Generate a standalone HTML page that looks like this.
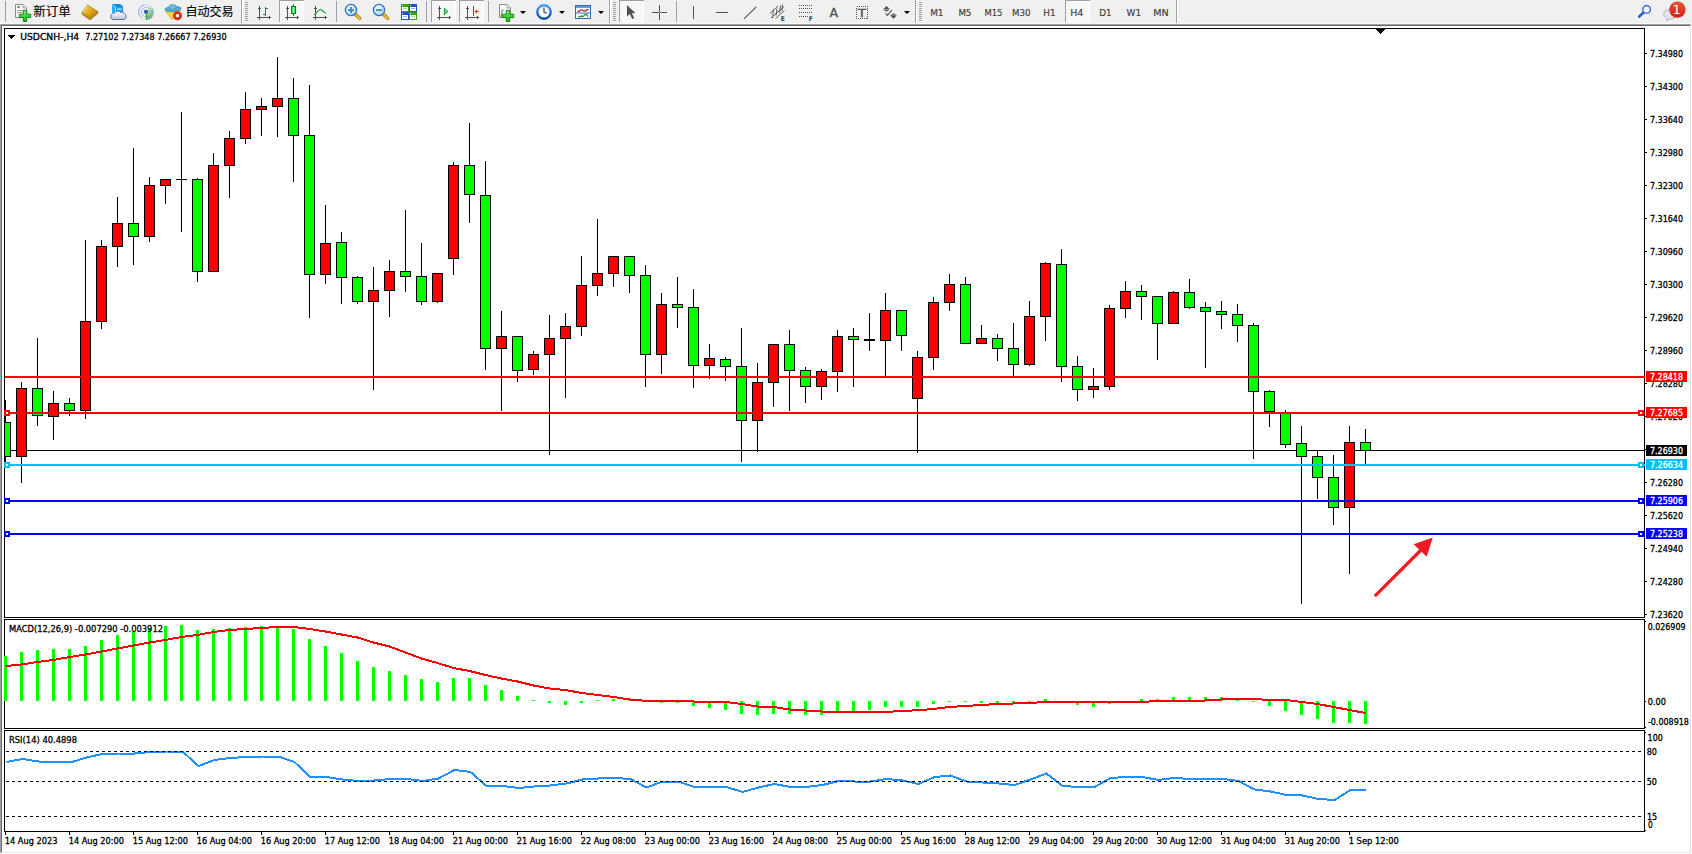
<!DOCTYPE html>
<html lang="zh"><head><meta charset="utf-8"><title>USDCNH-,H4</title>
<style>html,body{margin:0;padding:0;background:#f0f0f0;overflow:hidden}svg text{white-space:pre}</style></head>
<body>
<svg width="1692" height="854" viewBox="0 0 1692 854" font-family="'DejaVu Sans Condensed', 'DejaVu Sans', 'Liberation Sans', 'Noto Sans CJK SC', sans-serif" style="display:block">
<rect x="0" y="0" width="1692" height="854" fill="#f0f0f0"/>
<g shape-rendering="crispEdges">
<rect x="0" y="24" width="1692" height="830" fill="#ffffff"/>
<rect x="0" y="24" width="1691" height="1" fill="#a0a0a0"/>
<rect x="0" y="24" width="1" height="829" fill="#a0a0a0"/>
<rect x="1" y="25" width="1689" height="1" fill="#696969"/>
<rect x="1" y="25" width="1" height="827" fill="#696969"/>
<rect x="1690" y="25" width="1" height="828" fill="#e3e3e3"/>
<rect x="1" y="852" width="1690" height="1" fill="#e3e3e3"/>
<rect x="1691" y="24" width="1" height="830" fill="#ffffff"/>
<rect x="0" y="853" width="1692" height="1" fill="#ffffff"/>
<rect x="4" y="28" width="1641" height="1" fill="#000"/>
<rect x="4" y="28" width="1" height="590" fill="#000"/>
<rect x="1644" y="28" width="1" height="590" fill="#000"/>
<rect x="4" y="617" width="1641" height="1" fill="#000"/>
<rect x="4" y="619" width="1641" height="1" fill="#000"/>
<rect x="4" y="619" width="1" height="110" fill="#000"/>
<rect x="1644" y="619" width="1" height="110" fill="#000"/>
<rect x="4" y="728" width="1641" height="1" fill="#000"/>
<rect x="4" y="730" width="1641" height="1" fill="#000"/>
<rect x="4" y="730" width="1" height="102" fill="#000"/>
<rect x="1644" y="730" width="1" height="102" fill="#000"/>
<rect x="4" y="831" width="1641" height="1" fill="#000"/>
<rect x="1376" y="29" width="9" height="1" fill="#000"/>
<rect x="1377" y="30" width="7" height="1" fill="#000"/>
<rect x="1378" y="31" width="5" height="1" fill="#000"/>
<rect x="1379" y="32" width="3" height="1" fill="#000"/>
<rect x="1380" y="33" width="1" height="1" fill="#000"/>
<rect x="5" y="450" width="1639" height="1" fill="#000"/>
<clipPath id="cp"><rect x="5" y="29" width="1639" height="588"/></clipPath><g clip-path="url(#cp)">
<rect x="5" y="400" width="1" height="63" fill="#000"/>
<rect x="0" y="422" width="11" height="35" fill="#000"/>
<rect x="1" y="423" width="9" height="33" fill="#00ff00"/>
<rect x="21" y="382" width="1" height="101" fill="#000"/>
<rect x="16" y="388" width="11" height="69" fill="#000"/>
<rect x="17" y="389" width="9" height="67" fill="#ff0000"/>
<rect x="37" y="338" width="1" height="88" fill="#000"/>
<rect x="32" y="388" width="11" height="28" fill="#000"/>
<rect x="33" y="389" width="9" height="26" fill="#00ff00"/>
<rect x="53" y="391" width="1" height="49" fill="#000"/>
<rect x="48" y="403" width="11" height="14" fill="#000"/>
<rect x="49" y="404" width="9" height="12" fill="#ff0000"/>
<rect x="69" y="398" width="1" height="18" fill="#000"/>
<rect x="64" y="403" width="11" height="8" fill="#000"/>
<rect x="65" y="404" width="9" height="6" fill="#00ff00"/>
<rect x="85" y="240" width="1" height="179" fill="#000"/>
<rect x="80" y="321" width="11" height="90" fill="#000"/>
<rect x="81" y="322" width="9" height="88" fill="#ff0000"/>
<rect x="101" y="240" width="1" height="89" fill="#000"/>
<rect x="96" y="246" width="11" height="76" fill="#000"/>
<rect x="97" y="247" width="9" height="74" fill="#ff0000"/>
<rect x="117" y="197" width="1" height="70" fill="#000"/>
<rect x="112" y="223" width="11" height="24" fill="#000"/>
<rect x="113" y="224" width="9" height="22" fill="#ff0000"/>
<rect x="133" y="148" width="1" height="117" fill="#000"/>
<rect x="128" y="223" width="11" height="14" fill="#000"/>
<rect x="129" y="224" width="9" height="12" fill="#00ff00"/>
<rect x="149" y="177" width="1" height="65" fill="#000"/>
<rect x="144" y="185" width="11" height="52" fill="#000"/>
<rect x="145" y="186" width="9" height="50" fill="#ff0000"/>
<rect x="165" y="179" width="1" height="25" fill="#000"/>
<rect x="160" y="179" width="11" height="7" fill="#000"/>
<rect x="161" y="180" width="9" height="5" fill="#ff0000"/>
<rect x="181" y="112" width="1" height="120" fill="#000"/>
<rect x="176" y="179" width="11" height="1" fill="#000"/>
<rect x="197" y="178" width="1" height="104" fill="#000"/>
<rect x="192" y="179" width="11" height="93" fill="#000"/>
<rect x="193" y="180" width="9" height="91" fill="#00ff00"/>
<rect x="213" y="153" width="1" height="119" fill="#000"/>
<rect x="208" y="165" width="11" height="107" fill="#000"/>
<rect x="209" y="166" width="9" height="105" fill="#ff0000"/>
<rect x="229" y="131" width="1" height="67" fill="#000"/>
<rect x="224" y="138" width="11" height="28" fill="#000"/>
<rect x="225" y="139" width="9" height="26" fill="#ff0000"/>
<rect x="245" y="92" width="1" height="52" fill="#000"/>
<rect x="240" y="109" width="11" height="30" fill="#000"/>
<rect x="241" y="110" width="9" height="28" fill="#ff0000"/>
<rect x="261" y="98" width="1" height="38" fill="#000"/>
<rect x="256" y="106" width="11" height="4" fill="#000"/>
<rect x="257" y="107" width="9" height="2" fill="#ff0000"/>
<rect x="277" y="57" width="1" height="80" fill="#000"/>
<rect x="272" y="98" width="11" height="9" fill="#000"/>
<rect x="273" y="99" width="9" height="7" fill="#ff0000"/>
<rect x="293" y="78" width="1" height="104" fill="#000"/>
<rect x="288" y="98" width="11" height="38" fill="#000"/>
<rect x="289" y="99" width="9" height="36" fill="#00ff00"/>
<rect x="309" y="85" width="1" height="233" fill="#000"/>
<rect x="304" y="135" width="11" height="140" fill="#000"/>
<rect x="305" y="136" width="9" height="138" fill="#00ff00"/>
<rect x="325" y="205" width="1" height="79" fill="#000"/>
<rect x="320" y="243" width="11" height="32" fill="#000"/>
<rect x="321" y="244" width="9" height="30" fill="#ff0000"/>
<rect x="341" y="232" width="1" height="72" fill="#000"/>
<rect x="336" y="242" width="11" height="36" fill="#000"/>
<rect x="337" y="243" width="9" height="34" fill="#00ff00"/>
<rect x="357" y="276" width="1" height="28" fill="#000"/>
<rect x="352" y="277" width="11" height="25" fill="#000"/>
<rect x="353" y="278" width="9" height="23" fill="#00ff00"/>
<rect x="373" y="267" width="1" height="123" fill="#000"/>
<rect x="368" y="290" width="11" height="12" fill="#000"/>
<rect x="369" y="291" width="9" height="10" fill="#ff0000"/>
<rect x="389" y="260" width="1" height="57" fill="#000"/>
<rect x="384" y="271" width="11" height="20" fill="#000"/>
<rect x="385" y="272" width="9" height="18" fill="#ff0000"/>
<rect x="405" y="210" width="1" height="82" fill="#000"/>
<rect x="400" y="271" width="11" height="6" fill="#000"/>
<rect x="401" y="272" width="9" height="4" fill="#00ff00"/>
<rect x="421" y="243" width="1" height="62" fill="#000"/>
<rect x="416" y="276" width="11" height="26" fill="#000"/>
<rect x="417" y="277" width="9" height="24" fill="#00ff00"/>
<rect x="437" y="273" width="1" height="30" fill="#000"/>
<rect x="432" y="273" width="11" height="29" fill="#000"/>
<rect x="433" y="274" width="9" height="27" fill="#ff0000"/>
<rect x="453" y="162" width="1" height="113" fill="#000"/>
<rect x="448" y="165" width="11" height="94" fill="#000"/>
<rect x="449" y="166" width="9" height="92" fill="#ff0000"/>
<rect x="469" y="123" width="1" height="100" fill="#000"/>
<rect x="464" y="165" width="11" height="30" fill="#000"/>
<rect x="465" y="166" width="9" height="28" fill="#00ff00"/>
<rect x="485" y="161" width="1" height="209" fill="#000"/>
<rect x="480" y="195" width="11" height="154" fill="#000"/>
<rect x="481" y="196" width="9" height="152" fill="#00ff00"/>
<rect x="501" y="311" width="1" height="100" fill="#000"/>
<rect x="496" y="336" width="11" height="13" fill="#000"/>
<rect x="497" y="337" width="9" height="11" fill="#ff0000"/>
<rect x="517" y="336" width="1" height="46" fill="#000"/>
<rect x="512" y="336" width="11" height="35" fill="#000"/>
<rect x="513" y="337" width="9" height="33" fill="#00ff00"/>
<rect x="533" y="351" width="1" height="24" fill="#000"/>
<rect x="528" y="354" width="11" height="16" fill="#000"/>
<rect x="529" y="355" width="9" height="14" fill="#ff0000"/>
<rect x="549" y="315" width="1" height="140" fill="#000"/>
<rect x="544" y="338" width="11" height="17" fill="#000"/>
<rect x="545" y="339" width="9" height="15" fill="#ff0000"/>
<rect x="565" y="313" width="1" height="85" fill="#000"/>
<rect x="560" y="326" width="11" height="13" fill="#000"/>
<rect x="561" y="327" width="9" height="11" fill="#ff0000"/>
<rect x="581" y="256" width="1" height="80" fill="#000"/>
<rect x="576" y="285" width="11" height="42" fill="#000"/>
<rect x="577" y="286" width="9" height="40" fill="#ff0000"/>
<rect x="597" y="219" width="1" height="77" fill="#000"/>
<rect x="592" y="273" width="11" height="13" fill="#000"/>
<rect x="593" y="274" width="9" height="11" fill="#ff0000"/>
<rect x="613" y="256" width="1" height="31" fill="#000"/>
<rect x="608" y="256" width="11" height="18" fill="#000"/>
<rect x="609" y="257" width="9" height="16" fill="#ff0000"/>
<rect x="629" y="256" width="1" height="37" fill="#000"/>
<rect x="624" y="256" width="11" height="20" fill="#000"/>
<rect x="625" y="257" width="9" height="18" fill="#00ff00"/>
<rect x="645" y="265" width="1" height="122" fill="#000"/>
<rect x="640" y="275" width="11" height="80" fill="#000"/>
<rect x="641" y="276" width="9" height="78" fill="#00ff00"/>
<rect x="661" y="293" width="1" height="81" fill="#000"/>
<rect x="656" y="304" width="11" height="51" fill="#000"/>
<rect x="657" y="305" width="9" height="49" fill="#ff0000"/>
<rect x="677" y="277" width="1" height="51" fill="#000"/>
<rect x="672" y="304" width="11" height="4" fill="#000"/>
<rect x="673" y="305" width="9" height="2" fill="#00ff00"/>
<rect x="693" y="289" width="1" height="99" fill="#000"/>
<rect x="688" y="307" width="11" height="59" fill="#000"/>
<rect x="689" y="308" width="9" height="57" fill="#00ff00"/>
<rect x="709" y="344" width="1" height="35" fill="#000"/>
<rect x="704" y="358" width="11" height="8" fill="#000"/>
<rect x="705" y="359" width="9" height="6" fill="#ff0000"/>
<rect x="725" y="357" width="1" height="24" fill="#000"/>
<rect x="720" y="359" width="11" height="8" fill="#000"/>
<rect x="721" y="360" width="9" height="6" fill="#00ff00"/>
<rect x="741" y="328" width="1" height="134" fill="#000"/>
<rect x="736" y="366" width="11" height="55" fill="#000"/>
<rect x="737" y="367" width="9" height="53" fill="#00ff00"/>
<rect x="757" y="363" width="1" height="89" fill="#000"/>
<rect x="752" y="382" width="11" height="39" fill="#000"/>
<rect x="753" y="383" width="9" height="37" fill="#ff0000"/>
<rect x="773" y="344" width="1" height="63" fill="#000"/>
<rect x="768" y="344" width="11" height="39" fill="#000"/>
<rect x="769" y="345" width="9" height="37" fill="#ff0000"/>
<rect x="789" y="330" width="1" height="81" fill="#000"/>
<rect x="784" y="344" width="11" height="27" fill="#000"/>
<rect x="785" y="345" width="9" height="25" fill="#00ff00"/>
<rect x="805" y="367" width="1" height="36" fill="#000"/>
<rect x="800" y="370" width="11" height="17" fill="#000"/>
<rect x="801" y="371" width="9" height="15" fill="#00ff00"/>
<rect x="821" y="369" width="1" height="31" fill="#000"/>
<rect x="816" y="371" width="11" height="16" fill="#000"/>
<rect x="817" y="372" width="9" height="14" fill="#ff0000"/>
<rect x="837" y="330" width="1" height="62" fill="#000"/>
<rect x="832" y="336" width="11" height="36" fill="#000"/>
<rect x="833" y="337" width="9" height="34" fill="#ff0000"/>
<rect x="853" y="328" width="1" height="59" fill="#000"/>
<rect x="848" y="336" width="11" height="4" fill="#000"/>
<rect x="849" y="337" width="9" height="2" fill="#00ff00"/>
<rect x="869" y="313" width="1" height="38" fill="#000"/>
<rect x="864" y="339" width="11" height="2" fill="#000"/>
<rect x="885" y="293" width="1" height="85" fill="#000"/>
<rect x="880" y="310" width="11" height="31" fill="#000"/>
<rect x="881" y="311" width="9" height="29" fill="#ff0000"/>
<rect x="901" y="310" width="1" height="41" fill="#000"/>
<rect x="896" y="310" width="11" height="26" fill="#000"/>
<rect x="897" y="311" width="9" height="24" fill="#00ff00"/>
<rect x="917" y="351" width="1" height="102" fill="#000"/>
<rect x="912" y="357" width="11" height="42" fill="#000"/>
<rect x="913" y="358" width="9" height="40" fill="#ff0000"/>
<rect x="933" y="297" width="1" height="73" fill="#000"/>
<rect x="928" y="302" width="11" height="56" fill="#000"/>
<rect x="929" y="303" width="9" height="54" fill="#ff0000"/>
<rect x="949" y="274" width="1" height="37" fill="#000"/>
<rect x="944" y="284" width="11" height="19" fill="#000"/>
<rect x="945" y="285" width="9" height="17" fill="#ff0000"/>
<rect x="965" y="277" width="1" height="67" fill="#000"/>
<rect x="960" y="284" width="11" height="60" fill="#000"/>
<rect x="961" y="285" width="9" height="58" fill="#00ff00"/>
<rect x="981" y="325" width="1" height="19" fill="#000"/>
<rect x="976" y="338" width="11" height="6" fill="#000"/>
<rect x="977" y="339" width="9" height="4" fill="#ff0000"/>
<rect x="997" y="334" width="1" height="27" fill="#000"/>
<rect x="992" y="338" width="11" height="11" fill="#000"/>
<rect x="993" y="339" width="9" height="9" fill="#00ff00"/>
<rect x="1013" y="323" width="1" height="55" fill="#000"/>
<rect x="1008" y="348" width="11" height="17" fill="#000"/>
<rect x="1009" y="349" width="9" height="15" fill="#00ff00"/>
<rect x="1029" y="301" width="1" height="65" fill="#000"/>
<rect x="1024" y="316" width="11" height="49" fill="#000"/>
<rect x="1025" y="317" width="9" height="47" fill="#ff0000"/>
<rect x="1045" y="262" width="1" height="79" fill="#000"/>
<rect x="1040" y="263" width="11" height="54" fill="#000"/>
<rect x="1041" y="264" width="9" height="52" fill="#ff0000"/>
<rect x="1061" y="249" width="1" height="133" fill="#000"/>
<rect x="1056" y="264" width="11" height="103" fill="#000"/>
<rect x="1057" y="265" width="9" height="101" fill="#00ff00"/>
<rect x="1077" y="356" width="1" height="45" fill="#000"/>
<rect x="1072" y="366" width="11" height="24" fill="#000"/>
<rect x="1073" y="367" width="9" height="22" fill="#00ff00"/>
<rect x="1093" y="368" width="1" height="30" fill="#000"/>
<rect x="1088" y="386" width="11" height="4" fill="#000"/>
<rect x="1089" y="387" width="9" height="2" fill="#ff0000"/>
<rect x="1109" y="305" width="1" height="85" fill="#000"/>
<rect x="1104" y="308" width="11" height="79" fill="#000"/>
<rect x="1105" y="309" width="9" height="77" fill="#ff0000"/>
<rect x="1125" y="281" width="1" height="37" fill="#000"/>
<rect x="1120" y="291" width="11" height="18" fill="#000"/>
<rect x="1121" y="292" width="9" height="16" fill="#ff0000"/>
<rect x="1141" y="285" width="1" height="35" fill="#000"/>
<rect x="1136" y="291" width="11" height="6" fill="#000"/>
<rect x="1137" y="292" width="9" height="4" fill="#00ff00"/>
<rect x="1157" y="296" width="1" height="64" fill="#000"/>
<rect x="1152" y="296" width="11" height="28" fill="#000"/>
<rect x="1153" y="297" width="9" height="26" fill="#00ff00"/>
<rect x="1173" y="291" width="1" height="33" fill="#000"/>
<rect x="1168" y="292" width="11" height="32" fill="#000"/>
<rect x="1169" y="293" width="9" height="30" fill="#ff0000"/>
<rect x="1189" y="279" width="1" height="30" fill="#000"/>
<rect x="1184" y="292" width="11" height="16" fill="#000"/>
<rect x="1185" y="293" width="9" height="14" fill="#00ff00"/>
<rect x="1205" y="302" width="1" height="66" fill="#000"/>
<rect x="1200" y="307" width="11" height="5" fill="#000"/>
<rect x="1201" y="308" width="9" height="3" fill="#00ff00"/>
<rect x="1221" y="301" width="1" height="28" fill="#000"/>
<rect x="1216" y="311" width="11" height="4" fill="#000"/>
<rect x="1217" y="312" width="9" height="2" fill="#00ff00"/>
<rect x="1237" y="304" width="1" height="38" fill="#000"/>
<rect x="1232" y="314" width="11" height="12" fill="#000"/>
<rect x="1233" y="315" width="9" height="10" fill="#00ff00"/>
<rect x="1253" y="323" width="1" height="136" fill="#000"/>
<rect x="1248" y="325" width="11" height="67" fill="#000"/>
<rect x="1249" y="326" width="9" height="65" fill="#00ff00"/>
<rect x="1269" y="390" width="1" height="37" fill="#000"/>
<rect x="1264" y="391" width="11" height="21" fill="#000"/>
<rect x="1265" y="392" width="9" height="19" fill="#00ff00"/>
<rect x="1285" y="410" width="1" height="38" fill="#000"/>
<rect x="1280" y="412" width="11" height="33" fill="#000"/>
<rect x="1281" y="413" width="9" height="31" fill="#00ff00"/>
<rect x="1301" y="426" width="1" height="178" fill="#000"/>
<rect x="1296" y="443" width="11" height="14" fill="#000"/>
<rect x="1297" y="444" width="9" height="12" fill="#00ff00"/>
<rect x="1317" y="451" width="1" height="48" fill="#000"/>
<rect x="1312" y="456" width="11" height="22" fill="#000"/>
<rect x="1313" y="457" width="9" height="20" fill="#00ff00"/>
<rect x="1333" y="455" width="1" height="70" fill="#000"/>
<rect x="1328" y="477" width="11" height="31" fill="#000"/>
<rect x="1329" y="478" width="9" height="29" fill="#00ff00"/>
<rect x="1349" y="426" width="1" height="148" fill="#000"/>
<rect x="1344" y="442" width="11" height="66" fill="#000"/>
<rect x="1345" y="443" width="9" height="64" fill="#ff0000"/>
<rect x="1365" y="429" width="1" height="35" fill="#000"/>
<rect x="1360" y="442" width="11" height="9" fill="#000"/>
<rect x="1361" y="443" width="9" height="7" fill="#00ff00"/>
</g>
<rect x="5" y="376" width="1640" height="2" fill="#ff0000"/>
<rect x="5" y="412" width="1640" height="2" fill="#ff0000"/>
<rect x="4" y="410" width="6" height="6" fill="#ff0000"/>
<rect x="6" y="412" width="2" height="2" fill="#fff"/>
<rect x="1638" y="410" width="6" height="6" fill="#ff0000"/>
<rect x="1640" y="412" width="2" height="2" fill="#fff"/>
<rect x="5" y="464" width="1640" height="2" fill="#00bfff"/>
<rect x="4" y="462" width="6" height="6" fill="#00bfff"/>
<rect x="6" y="464" width="2" height="2" fill="#fff"/>
<rect x="1638" y="462" width="6" height="6" fill="#00bfff"/>
<rect x="1640" y="464" width="2" height="2" fill="#fff"/>
<rect x="5" y="500" width="1640" height="2" fill="#0000ff"/>
<rect x="4" y="498" width="6" height="6" fill="#0000ff"/>
<rect x="6" y="500" width="2" height="2" fill="#fff"/>
<rect x="1638" y="498" width="6" height="6" fill="#0000ff"/>
<rect x="1640" y="500" width="2" height="2" fill="#fff"/>
<rect x="5" y="533" width="1640" height="2" fill="#0000ff"/>
<rect x="4" y="531" width="6" height="6" fill="#0000ff"/>
<rect x="6" y="533" width="2" height="2" fill="#fff"/>
<rect x="1638" y="531" width="6" height="6" fill="#0000ff"/>
<rect x="1640" y="533" width="2" height="2" fill="#fff"/>
<rect x="4" y="656" width="3" height="45" fill="#00ff00"/>
<rect x="20" y="652" width="3" height="49" fill="#00ff00"/>
<rect x="36" y="650" width="3" height="51" fill="#00ff00"/>
<rect x="52" y="649" width="3" height="52" fill="#00ff00"/>
<rect x="68" y="649" width="3" height="52" fill="#00ff00"/>
<rect x="84" y="646" width="3" height="55" fill="#00ff00"/>
<rect x="100" y="640" width="3" height="61" fill="#00ff00"/>
<rect x="116" y="635" width="3" height="66" fill="#00ff00"/>
<rect x="132" y="632" width="3" height="69" fill="#00ff00"/>
<rect x="148" y="628" width="3" height="73" fill="#00ff00"/>
<rect x="164" y="626" width="3" height="75" fill="#00ff00"/>
<rect x="180" y="625" width="3" height="76" fill="#00ff00"/>
<rect x="196" y="630" width="3" height="71" fill="#00ff00"/>
<rect x="212" y="629" width="3" height="72" fill="#00ff00"/>
<rect x="228" y="628" width="3" height="73" fill="#00ff00"/>
<rect x="244" y="627" width="3" height="74" fill="#00ff00"/>
<rect x="260" y="626" width="3" height="75" fill="#00ff00"/>
<rect x="276" y="626" width="3" height="75" fill="#00ff00"/>
<rect x="292" y="629" width="3" height="72" fill="#00ff00"/>
<rect x="308" y="639" width="3" height="62" fill="#00ff00"/>
<rect x="324" y="646" width="3" height="55" fill="#00ff00"/>
<rect x="340" y="653" width="3" height="48" fill="#00ff00"/>
<rect x="356" y="661" width="3" height="40" fill="#00ff00"/>
<rect x="372" y="667" width="3" height="34" fill="#00ff00"/>
<rect x="388" y="671" width="3" height="30" fill="#00ff00"/>
<rect x="404" y="675" width="3" height="26" fill="#00ff00"/>
<rect x="420" y="679" width="3" height="22" fill="#00ff00"/>
<rect x="436" y="682" width="3" height="19" fill="#00ff00"/>
<rect x="452" y="678" width="3" height="23" fill="#00ff00"/>
<rect x="468" y="678" width="3" height="23" fill="#00ff00"/>
<rect x="484" y="685" width="3" height="16" fill="#00ff00"/>
<rect x="500" y="690" width="3" height="11" fill="#00ff00"/>
<rect x="516" y="696" width="3" height="5" fill="#00ff00"/>
<rect x="532" y="700" width="3" height="1" fill="#00ff00"/>
<rect x="548" y="701" width="3" height="2" fill="#00ff00"/>
<rect x="564" y="701" width="3" height="4" fill="#00ff00"/>
<rect x="580" y="701" width="3" height="2" fill="#00ff00"/>
<rect x="644" y="701" width="3" height="1" fill="#00ff00"/>
<rect x="660" y="701" width="3" height="2" fill="#00ff00"/>
<rect x="676" y="701" width="3" height="2" fill="#00ff00"/>
<rect x="692" y="701" width="3" height="5" fill="#00ff00"/>
<rect x="708" y="701" width="3" height="7" fill="#00ff00"/>
<rect x="724" y="701" width="3" height="9" fill="#00ff00"/>
<rect x="740" y="701" width="3" height="13" fill="#00ff00"/>
<rect x="756" y="701" width="3" height="14" fill="#00ff00"/>
<rect x="772" y="701" width="3" height="13" fill="#00ff00"/>
<rect x="788" y="701" width="3" height="13" fill="#00ff00"/>
<rect x="804" y="701" width="3" height="14" fill="#00ff00"/>
<rect x="820" y="701" width="3" height="14" fill="#00ff00"/>
<rect x="836" y="701" width="3" height="11" fill="#00ff00"/>
<rect x="852" y="701" width="3" height="10" fill="#00ff00"/>
<rect x="868" y="701" width="3" height="9" fill="#00ff00"/>
<rect x="884" y="701" width="3" height="6" fill="#00ff00"/>
<rect x="900" y="701" width="3" height="6" fill="#00ff00"/>
<rect x="916" y="701" width="3" height="6" fill="#00ff00"/>
<rect x="932" y="701" width="3" height="3" fill="#00ff00"/>
<rect x="948" y="701" width="3" height="1" fill="#00ff00"/>
<rect x="964" y="701" width="3" height="1" fill="#00ff00"/>
<rect x="980" y="701" width="3" height="2" fill="#00ff00"/>
<rect x="996" y="701" width="3" height="2" fill="#00ff00"/>
<rect x="1012" y="701" width="3" height="2" fill="#00ff00"/>
<rect x="1028" y="701" width="3" height="1" fill="#00ff00"/>
<rect x="1076" y="701" width="3" height="4" fill="#00ff00"/>
<rect x="1092" y="701" width="3" height="6" fill="#00ff00"/>
<rect x="1108" y="701" width="3" height="3" fill="#00ff00"/>
<rect x="1252" y="701" width="3" height="1" fill="#00ff00"/>
<rect x="1268" y="701" width="3" height="5" fill="#00ff00"/>
<rect x="1284" y="701" width="3" height="10" fill="#00ff00"/>
<rect x="1300" y="701" width="3" height="14" fill="#00ff00"/>
<rect x="1316" y="701" width="3" height="18" fill="#00ff00"/>
<rect x="1332" y="701" width="3" height="22" fill="#00ff00"/>
<rect x="1348" y="701" width="3" height="22" fill="#00ff00"/>
<rect x="1364" y="701" width="3" height="23" fill="#00ff00"/>
<rect x="596" y="700" width="3" height="1" fill="#00ff00"/>
<rect x="612" y="699" width="3" height="2" fill="#00ff00"/>
<rect x="628" y="699" width="3" height="2" fill="#00ff00"/>
<rect x="1044" y="699" width="3" height="2" fill="#00ff00"/>
<rect x="1140" y="699" width="3" height="2" fill="#00ff00"/>
<rect x="1156" y="699" width="3" height="2" fill="#00ff00"/>
<rect x="1172" y="697" width="3" height="4" fill="#00ff00"/>
<rect x="1188" y="697" width="3" height="4" fill="#00ff00"/>
<rect x="1204" y="697" width="3" height="4" fill="#00ff00"/>
<rect x="1220" y="697" width="3" height="4" fill="#00ff00"/>
<rect x="1236" y="700" width="3" height="1" fill="#00ff00"/>
<rect x="1645" y="53" width="2" height="1" fill="#000"/>
<rect x="1645" y="86" width="2" height="1" fill="#000"/>
<rect x="1645" y="119" width="2" height="1" fill="#000"/>
<rect x="1645" y="152" width="2" height="1" fill="#000"/>
<rect x="1645" y="185" width="2" height="1" fill="#000"/>
<rect x="1645" y="218" width="2" height="1" fill="#000"/>
<rect x="1645" y="251" width="2" height="1" fill="#000"/>
<rect x="1645" y="284" width="2" height="1" fill="#000"/>
<rect x="1645" y="317" width="2" height="1" fill="#000"/>
<rect x="1645" y="350" width="2" height="1" fill="#000"/>
<rect x="1645" y="383" width="2" height="1" fill="#000"/>
<rect x="1645" y="416" width="2" height="1" fill="#000"/>
<rect x="1645" y="449" width="2" height="1" fill="#000"/>
<rect x="1645" y="482" width="2" height="1" fill="#000"/>
<rect x="1645" y="515" width="2" height="1" fill="#000"/>
<rect x="1645" y="548" width="2" height="1" fill="#000"/>
<rect x="1645" y="581" width="2" height="1" fill="#000"/>
<rect x="1645" y="614" width="2" height="1" fill="#000"/>
<rect x="1645" y="621" width="1" height="1" fill="#000"/>
<rect x="1645" y="701" width="1" height="1" fill="#000"/>
<rect x="1645" y="727" width="1" height="1" fill="#000"/>
<rect x="1645" y="732" width="1" height="1" fill="#000"/>
<rect x="1645" y="830" width="1" height="1" fill="#000"/>
<rect x="5" y="832" width="1" height="3" fill="#000"/>
<rect x="69" y="832" width="1" height="3" fill="#000"/>
<rect x="133" y="832" width="1" height="3" fill="#000"/>
<rect x="197" y="832" width="1" height="3" fill="#000"/>
<rect x="261" y="832" width="1" height="3" fill="#000"/>
<rect x="325" y="832" width="1" height="3" fill="#000"/>
<rect x="389" y="832" width="1" height="3" fill="#000"/>
<rect x="453" y="832" width="1" height="3" fill="#000"/>
<rect x="517" y="832" width="1" height="3" fill="#000"/>
<rect x="581" y="832" width="1" height="3" fill="#000"/>
<rect x="645" y="832" width="1" height="3" fill="#000"/>
<rect x="709" y="832" width="1" height="3" fill="#000"/>
<rect x="773" y="832" width="1" height="3" fill="#000"/>
<rect x="837" y="832" width="1" height="3" fill="#000"/>
<rect x="901" y="832" width="1" height="3" fill="#000"/>
<rect x="965" y="832" width="1" height="3" fill="#000"/>
<rect x="1029" y="832" width="1" height="3" fill="#000"/>
<rect x="1093" y="832" width="1" height="3" fill="#000"/>
<rect x="1157" y="832" width="1" height="3" fill="#000"/>
<rect x="1221" y="832" width="1" height="3" fill="#000"/>
<rect x="1285" y="832" width="1" height="3" fill="#000"/>
<rect x="1349" y="832" width="1" height="3" fill="#000"/>
</g>
<polyline points="5.5,666 21.5,664.5 37.5,662 53.5,660 69.5,657 85.5,654.5 101.5,651.5 117.5,648.5 133.5,645.5 149.5,642.5 165.5,640 181.5,637 197.5,635 213.5,632 229.5,630 245.5,629 261.5,628 277.5,627 293.5,627 309.5,629 325.5,631.5 341.5,634.5 357.5,637.5 373.5,642.5 389.5,646.5 405.5,652.5 421.5,658.5 437.5,663 453.5,668 469.5,671 485.5,675 501.5,678.5 517.5,681.5 533.5,685.5 549.5,688.5 565.5,690 581.5,693 597.5,695 613.5,697 629.5,699.5 645.5,700.75 661.5,701 677.5,701 693.5,701.5 709.5,702 725.5,702 741.5,704 757.5,706.5 773.5,707 789.5,709.5 805.5,710.5 821.5,711.5 837.5,711.5 853.5,712 869.5,712 885.5,712 901.5,711 917.5,710.25 933.5,709 949.5,707 965.5,706 981.5,705 997.5,704 1013.5,703.5 1029.5,703 1045.5,702 1061.5,702 1077.5,702 1093.5,702 1109.5,702 1125.5,702 1141.5,702 1157.5,701 1173.5,701 1189.5,701 1205.5,700.5 1221.5,699.5 1237.5,699 1253.5,699 1269.5,700 1285.5,700 1301.5,702 1317.5,704 1333.5,707 1349.5,710 1365.5,713" fill="none" stroke="#ff0000" stroke-width="2" stroke-linejoin="round" shape-rendering="crispEdges"/>
<polyline points="6.5,762 22.5,759 38.5,761.5 54.5,761.5 70.5,762.5 86.5,757.5 102.5,754 118.5,753.5 134.5,753.5 150.5,752 166.5,751.5 182.5,751.5 198.5,766 214.5,760 230.5,758 246.5,757 262.5,756.5 278.5,756.5 294.5,762 310.5,777.5 326.5,777 342.5,779.5 358.5,781 374.5,780.5 390.5,779 406.5,779 422.5,781 438.5,778.5 454.5,770 470.5,772 486.5,786 502.5,786 518.5,788 534.5,786.5 550.5,785.5 566.5,783.5 582.5,779.5 598.5,778.5 614.5,778 630.5,779 646.5,787.5 662.5,781.5 678.5,781.5 694.5,787 710.5,787 726.5,787 742.5,792 758.5,787.5 774.5,784 790.5,787 806.5,787 822.5,785 838.5,781 854.5,781.5 870.5,781.5 886.5,779 902.5,780.5 918.5,784 934.5,777 950.5,775.5 966.5,781.5 982.5,782.5 998.5,783.5 1014.5,785 1030.5,779.5 1046.5,773.5 1062.5,786 1078.5,787 1094.5,787 1110.5,778 1126.5,777 1142.5,777 1158.5,780 1174.5,778 1190.5,779 1206.5,779 1222.5,779 1238.5,781 1254.5,789.5 1270.5,791.5 1286.5,795 1302.5,795.5 1318.5,799 1334.5,800 1350.5,790 1366,790" fill="none" stroke="#1e90ff" stroke-width="2" stroke-linejoin="round" shape-rendering="crispEdges"/>
<path d="M6 751.5H1642" stroke="#000" stroke-width="1" stroke-dasharray="3 3" fill="none"/>
<path d="M6 781.5H1642" stroke="#000" stroke-width="1" stroke-dasharray="3 3" fill="none"/>
<path d="M6 816.5H1642" stroke="#000" stroke-width="1" stroke-dasharray="3 3" fill="none"/>
<path d="M1374.8 596.2L1421 550" stroke="#ed1c24" stroke-width="3.2" fill="none"/>
<path d="M1432.8 537.4L1413.6 544.2L1426.8 556.8Z" fill="#ed1c24"/>
<text x="1650" y="57" font-size="9" fill="#000" textLength="33" lengthAdjust="spacingAndGlyphs" stroke="#000" stroke-width="0.28">7.34980</text>
<text x="1650" y="90" font-size="9" fill="#000" textLength="33" lengthAdjust="spacingAndGlyphs" stroke="#000" stroke-width="0.28">7.34300</text>
<text x="1650" y="123" font-size="9" fill="#000" textLength="33" lengthAdjust="spacingAndGlyphs" stroke="#000" stroke-width="0.28">7.33640</text>
<text x="1650" y="156" font-size="9" fill="#000" textLength="33" lengthAdjust="spacingAndGlyphs" stroke="#000" stroke-width="0.28">7.32980</text>
<text x="1650" y="189" font-size="9" fill="#000" textLength="33" lengthAdjust="spacingAndGlyphs" stroke="#000" stroke-width="0.28">7.32300</text>
<text x="1650" y="222" font-size="9" fill="#000" textLength="33" lengthAdjust="spacingAndGlyphs" stroke="#000" stroke-width="0.28">7.31640</text>
<text x="1650" y="255" font-size="9" fill="#000" textLength="33" lengthAdjust="spacingAndGlyphs" stroke="#000" stroke-width="0.28">7.30960</text>
<text x="1650" y="288" font-size="9" fill="#000" textLength="33" lengthAdjust="spacingAndGlyphs" stroke="#000" stroke-width="0.28">7.30300</text>
<text x="1650" y="321" font-size="9" fill="#000" textLength="33" lengthAdjust="spacingAndGlyphs" stroke="#000" stroke-width="0.28">7.29620</text>
<text x="1650" y="354" font-size="9" fill="#000" textLength="33" lengthAdjust="spacingAndGlyphs" stroke="#000" stroke-width="0.28">7.28960</text>
<text x="1650" y="387" font-size="9" fill="#000" textLength="33" lengthAdjust="spacingAndGlyphs" stroke="#000" stroke-width="0.28">7.28280</text>
<text x="1650" y="420" font-size="9" fill="#000" textLength="33" lengthAdjust="spacingAndGlyphs" stroke="#000" stroke-width="0.28">7.27620</text>
<text x="1650" y="453" font-size="9" fill="#000" textLength="33" lengthAdjust="spacingAndGlyphs" stroke="#000" stroke-width="0.28">7.26960</text>
<text x="1650" y="486" font-size="9" fill="#000" textLength="33" lengthAdjust="spacingAndGlyphs" stroke="#000" stroke-width="0.28">7.26280</text>
<text x="1650" y="519" font-size="9" fill="#000" textLength="33" lengthAdjust="spacingAndGlyphs" stroke="#000" stroke-width="0.28">7.25620</text>
<text x="1650" y="552" font-size="9" fill="#000" textLength="33" lengthAdjust="spacingAndGlyphs" stroke="#000" stroke-width="0.28">7.24940</text>
<text x="1650" y="585" font-size="9" fill="#000" textLength="33" lengthAdjust="spacingAndGlyphs" stroke="#000" stroke-width="0.28">7.24280</text>
<text x="1650" y="618" font-size="9" fill="#000" textLength="33" lengthAdjust="spacingAndGlyphs" stroke="#000" stroke-width="0.28">7.23620</text>
<g shape-rendering="crispEdges">
<rect x="1646" y="371" width="41" height="11" fill="#ff0000"/>
<rect x="1646" y="407" width="41" height="11" fill="#ff0000"/>
<rect x="1646" y="445" width="41" height="11" fill="#000"/>
<rect x="1646" y="459" width="41" height="11" fill="#00bfff"/>
<rect x="1646" y="495" width="41" height="11" fill="#0000ff"/>
<rect x="1646" y="528" width="41" height="11" fill="#0000ff"/>
</g>
<text x="1650" y="380" font-size="9" fill="#fff" textLength="33" lengthAdjust="spacingAndGlyphs" stroke="#fff" stroke-width="0.28">7.28418</text>
<text x="1650" y="416" font-size="9" fill="#fff" textLength="33" lengthAdjust="spacingAndGlyphs" stroke="#fff" stroke-width="0.28">7.27685</text>
<text x="1650" y="454" font-size="9" fill="#fff" textLength="33" lengthAdjust="spacingAndGlyphs" stroke="#fff" stroke-width="0.28">7.26930</text>
<text x="1650" y="468" font-size="9" fill="#fff" textLength="33" lengthAdjust="spacingAndGlyphs" stroke="#fff" stroke-width="0.28">7.26634</text>
<text x="1650" y="504" font-size="9" fill="#fff" textLength="33" lengthAdjust="spacingAndGlyphs" stroke="#fff" stroke-width="0.28">7.25906</text>
<text x="1650" y="537" font-size="9" fill="#fff" textLength="33" lengthAdjust="spacingAndGlyphs" stroke="#fff" stroke-width="0.28">7.25238</text>
<text x="1647.7" y="630" font-size="9" fill="#000" textLength="37.8" lengthAdjust="spacingAndGlyphs" stroke="#000" stroke-width="0.28">0.026909</text>
<text x="1647.7" y="705" font-size="9" fill="#000" textLength="18.2" lengthAdjust="spacingAndGlyphs" stroke="#000" stroke-width="0.28">0.00</text>
<text x="1647.9" y="725" font-size="9" fill="#000" textLength="41" lengthAdjust="spacingAndGlyphs" stroke="#000" stroke-width="0.28">-0.008918</text>
<text x="1647.6" y="741" font-size="9" fill="#000" textLength="15.2" lengthAdjust="spacingAndGlyphs" stroke="#000" stroke-width="0.28">100</text>
<text x="1646.7" y="755" font-size="9" fill="#000" textLength="10.2" lengthAdjust="spacingAndGlyphs" stroke="#000" stroke-width="0.28">80</text>
<text x="1646.7" y="785" font-size="9" fill="#000" textLength="10.2" lengthAdjust="spacingAndGlyphs" stroke="#000" stroke-width="0.28">50</text>
<text x="1646.9" y="819.6" font-size="9" fill="#000" textLength="10.2" lengthAdjust="spacingAndGlyphs" stroke="#000" stroke-width="0.28">15</text>
<text x="1647.9" y="828" font-size="9" fill="#000" textLength="4.8" lengthAdjust="spacingAndGlyphs" stroke="#000" stroke-width="0.28">0</text>
<text x="20.2" y="40" font-size="9" fill="#000" textLength="59" lengthAdjust="spacingAndGlyphs" stroke="#000" stroke-width="0.28">USDCNH-,H4</text>
<text x="85.2" y="40" font-size="9" fill="#000" textLength="141.4" lengthAdjust="spacingAndGlyphs" stroke="#000" stroke-width="0.28">7.27102 7.27348 7.26667 7.26930</text>
<g shape-rendering="crispEdges"><rect x="8" y="35" width="7" height="1" fill="#000"/><rect x="9" y="36" width="5" height="1" fill="#000"/><rect x="10" y="37" width="3" height="1" fill="#000"/><rect x="11" y="38" width="1" height="1" fill="#000"/></g>
<text x="9" y="632" font-size="9" fill="#000" textLength="154" lengthAdjust="spacingAndGlyphs" stroke="#000" stroke-width="0.28">MACD(12,26,9) -0.007290 -0.003912</text>
<text x="9" y="743" font-size="9" fill="#000" textLength="68" lengthAdjust="spacingAndGlyphs" stroke="#000" stroke-width="0.28">RSI(14) 40.4898</text>
<text x="4.7" y="844.3" font-size="9" fill="#000" textLength="52.8" lengthAdjust="spacingAndGlyphs" stroke="#000" stroke-width="0.28">14 Aug 2023</text>
<text x="68.7" y="844.3" font-size="9" fill="#000" textLength="55.3" lengthAdjust="spacingAndGlyphs" stroke="#000" stroke-width="0.28">14 Aug 20:00</text>
<text x="132.7" y="844.3" font-size="9" fill="#000" textLength="55.3" lengthAdjust="spacingAndGlyphs" stroke="#000" stroke-width="0.28">15 Aug 12:00</text>
<text x="196.7" y="844.3" font-size="9" fill="#000" textLength="55.3" lengthAdjust="spacingAndGlyphs" stroke="#000" stroke-width="0.28">16 Aug 04:00</text>
<text x="260.7" y="844.3" font-size="9" fill="#000" textLength="55.3" lengthAdjust="spacingAndGlyphs" stroke="#000" stroke-width="0.28">16 Aug 20:00</text>
<text x="324.7" y="844.3" font-size="9" fill="#000" textLength="55.3" lengthAdjust="spacingAndGlyphs" stroke="#000" stroke-width="0.28">17 Aug 12:00</text>
<text x="388.7" y="844.3" font-size="9" fill="#000" textLength="55.3" lengthAdjust="spacingAndGlyphs" stroke="#000" stroke-width="0.28">18 Aug 04:00</text>
<text x="452.7" y="844.3" font-size="9" fill="#000" textLength="55.3" lengthAdjust="spacingAndGlyphs" stroke="#000" stroke-width="0.28">21 Aug 00:00</text>
<text x="516.7" y="844.3" font-size="9" fill="#000" textLength="55.3" lengthAdjust="spacingAndGlyphs" stroke="#000" stroke-width="0.28">21 Aug 16:00</text>
<text x="580.7" y="844.3" font-size="9" fill="#000" textLength="55.3" lengthAdjust="spacingAndGlyphs" stroke="#000" stroke-width="0.28">22 Aug 08:00</text>
<text x="644.7" y="844.3" font-size="9" fill="#000" textLength="55.3" lengthAdjust="spacingAndGlyphs" stroke="#000" stroke-width="0.28">23 Aug 00:00</text>
<text x="708.7" y="844.3" font-size="9" fill="#000" textLength="55.3" lengthAdjust="spacingAndGlyphs" stroke="#000" stroke-width="0.28">23 Aug 16:00</text>
<text x="772.7" y="844.3" font-size="9" fill="#000" textLength="55.3" lengthAdjust="spacingAndGlyphs" stroke="#000" stroke-width="0.28">24 Aug 08:00</text>
<text x="836.7" y="844.3" font-size="9" fill="#000" textLength="55.3" lengthAdjust="spacingAndGlyphs" stroke="#000" stroke-width="0.28">25 Aug 00:00</text>
<text x="900.7" y="844.3" font-size="9" fill="#000" textLength="55.3" lengthAdjust="spacingAndGlyphs" stroke="#000" stroke-width="0.28">25 Aug 16:00</text>
<text x="964.7" y="844.3" font-size="9" fill="#000" textLength="55.3" lengthAdjust="spacingAndGlyphs" stroke="#000" stroke-width="0.28">28 Aug 12:00</text>
<text x="1028.7" y="844.3" font-size="9" fill="#000" textLength="55.3" lengthAdjust="spacingAndGlyphs" stroke="#000" stroke-width="0.28">29 Aug 04:00</text>
<text x="1092.7" y="844.3" font-size="9" fill="#000" textLength="55.3" lengthAdjust="spacingAndGlyphs" stroke="#000" stroke-width="0.28">29 Aug 20:00</text>
<text x="1156.7" y="844.3" font-size="9" fill="#000" textLength="55.3" lengthAdjust="spacingAndGlyphs" stroke="#000" stroke-width="0.28">30 Aug 12:00</text>
<text x="1220.7" y="844.3" font-size="9" fill="#000" textLength="55.3" lengthAdjust="spacingAndGlyphs" stroke="#000" stroke-width="0.28">31 Aug 04:00</text>
<text x="1284.7" y="844.3" font-size="9" fill="#000" textLength="55.3" lengthAdjust="spacingAndGlyphs" stroke="#000" stroke-width="0.28">31 Aug 20:00</text>
<text x="1348.7" y="844.3" font-size="9" fill="#000" textLength="50.2" lengthAdjust="spacingAndGlyphs" stroke="#000" stroke-width="0.28">1 Sep 12:00</text>
<defs>
<pattern id="chk" width="2" height="2" patternUnits="userSpaceOnUse"><rect width="2" height="2" fill="#ffffff"/><rect width="1" height="1" fill="#f0f0f0"/><rect x="1" y="1" width="1" height="1" fill="#f0f0f0"/></pattern>
<linearGradient id="gGold" x1="0" y1="0" x2="1" y2="1"><stop offset="0" stop-color="#f6d860"/><stop offset="0.5" stop-color="#e0a818"/><stop offset="1" stop-color="#a86c08"/></linearGradient>
<linearGradient id="gPlus" x1="0" y1="0" x2="0" y2="1"><stop offset="0" stop-color="#7cf07c"/><stop offset="1" stop-color="#10b010"/></linearGradient>
<linearGradient id="gCloud" x1="0" y1="0" x2="0" y2="1"><stop offset="0" stop-color="#ffffff"/><stop offset="1" stop-color="#b8c8e0"/></linearGradient>
<linearGradient id="gSrv" x1="0" y1="0" x2="1" y2="0"><stop offset="0" stop-color="#30a8f0"/><stop offset="1" stop-color="#1060d0"/></linearGradient>
<linearGradient id="gBadge" x1="0" y1="0" x2="0" y2="1"><stop offset="0" stop-color="#ea5636"/><stop offset="1" stop-color="#d81e0c"/></linearGradient>
<radialGradient id="gLens" cx="0.4" cy="0.35" r="0.7"><stop offset="0" stop-color="#ffffff"/><stop offset="1" stop-color="#a8d4f4"/></radialGradient>
<linearGradient id="gClock" x1="0" y1="0" x2="0" y2="1"><stop offset="0" stop-color="#48a0f0"/><stop offset="1" stop-color="#0848a8"/></linearGradient>
<linearGradient id="gCan" x1="0" y1="0" x2="1" y2="0"><stop offset="0" stop-color="#20d840"/><stop offset="0.5" stop-color="#90ffa0"/><stop offset="1" stop-color="#20d840"/></linearGradient>
</defs>
<g shape-rendering="crispEdges">
<rect x="0" y="23" width="1692" height="1" fill="#f8f8f8"/>
<rect x="5" y="1" width="1" height="21" fill="#a0a0a0"/>
<rect x="336" y="1" width="1" height="21" fill="#a0a0a0"/>
<rect x="426" y="1" width="1" height="21" fill="#a0a0a0"/>
<rect x="488" y="1" width="1" height="21" fill="#a0a0a0"/>
<rect x="676" y="1" width="1" height="21" fill="#a0a0a0"/>
<rect x="241" y="0" width="1" height="23" fill="#a0a0a0"/><rect x="242" y="0" width="1" height="23" fill="#ffffff"/>
<rect x="609" y="0" width="1" height="23" fill="#a0a0a0"/><rect x="610" y="0" width="1" height="23" fill="#ffffff"/>
<rect x="915" y="0" width="1" height="23" fill="#a0a0a0"/><rect x="916" y="0" width="1" height="23" fill="#ffffff"/>
<rect x="1176" y="0" width="1" height="23" fill="#a0a0a0"/><rect x="1177" y="0" width="1" height="23" fill="#ffffff"/>
<rect x="245" y="2" width="3" height="1" fill="#a0a0a0"/>
<rect x="245" y="4" width="3" height="1" fill="#a0a0a0"/>
<rect x="245" y="6" width="3" height="1" fill="#a0a0a0"/>
<rect x="245" y="8" width="3" height="1" fill="#a0a0a0"/>
<rect x="245" y="10" width="3" height="1" fill="#a0a0a0"/>
<rect x="245" y="12" width="3" height="1" fill="#a0a0a0"/>
<rect x="245" y="14" width="3" height="1" fill="#a0a0a0"/>
<rect x="245" y="16" width="3" height="1" fill="#a0a0a0"/>
<rect x="245" y="18" width="3" height="1" fill="#a0a0a0"/>
<rect x="245" y="20" width="3" height="1" fill="#a0a0a0"/>
<rect x="613" y="2" width="3" height="1" fill="#a0a0a0"/>
<rect x="613" y="4" width="3" height="1" fill="#a0a0a0"/>
<rect x="613" y="6" width="3" height="1" fill="#a0a0a0"/>
<rect x="613" y="8" width="3" height="1" fill="#a0a0a0"/>
<rect x="613" y="10" width="3" height="1" fill="#a0a0a0"/>
<rect x="613" y="12" width="3" height="1" fill="#a0a0a0"/>
<rect x="613" y="14" width="3" height="1" fill="#a0a0a0"/>
<rect x="613" y="16" width="3" height="1" fill="#a0a0a0"/>
<rect x="613" y="18" width="3" height="1" fill="#a0a0a0"/>
<rect x="613" y="20" width="3" height="1" fill="#a0a0a0"/>
<rect x="919" y="2" width="3" height="1" fill="#a0a0a0"/>
<rect x="919" y="4" width="3" height="1" fill="#a0a0a0"/>
<rect x="919" y="6" width="3" height="1" fill="#a0a0a0"/>
<rect x="919" y="8" width="3" height="1" fill="#a0a0a0"/>
<rect x="919" y="10" width="3" height="1" fill="#a0a0a0"/>
<rect x="919" y="12" width="3" height="1" fill="#a0a0a0"/>
<rect x="919" y="14" width="3" height="1" fill="#a0a0a0"/>
<rect x="919" y="16" width="3" height="1" fill="#a0a0a0"/>
<rect x="919" y="18" width="3" height="1" fill="#a0a0a0"/>
<rect x="919" y="20" width="3" height="1" fill="#a0a0a0"/>
<rect x="279" y="0" width="25" height="22" fill="url(#chk)"/>
<rect x="279" y="0" width="25" height="1" fill="#a0a0a0"/><rect x="279" y="0" width="1" height="22" fill="#a0a0a0"/>
<rect x="303" y="1" width="1" height="21" fill="#ffffff"/><rect x="280" y="21" width="24" height="1" fill="#ffffff"/>
<rect x="431" y="0" width="25" height="22" fill="url(#chk)"/>
<rect x="431" y="0" width="25" height="1" fill="#a0a0a0"/><rect x="431" y="0" width="1" height="22" fill="#a0a0a0"/>
<rect x="455" y="1" width="1" height="21" fill="#ffffff"/><rect x="432" y="21" width="24" height="1" fill="#ffffff"/>
<rect x="459" y="0" width="25" height="22" fill="url(#chk)"/>
<rect x="459" y="0" width="25" height="1" fill="#a0a0a0"/><rect x="459" y="0" width="1" height="22" fill="#a0a0a0"/>
<rect x="483" y="1" width="1" height="21" fill="#ffffff"/><rect x="460" y="21" width="24" height="1" fill="#ffffff"/>
<rect x="619" y="0" width="25" height="22" fill="url(#chk)"/>
<rect x="619" y="0" width="25" height="1" fill="#a0a0a0"/><rect x="619" y="0" width="1" height="22" fill="#a0a0a0"/>
<rect x="643" y="1" width="1" height="21" fill="#ffffff"/><rect x="620" y="21" width="24" height="1" fill="#ffffff"/>
<rect x="1065" y="0" width="25" height="22" fill="url(#chk)"/>
<rect x="1065" y="0" width="25" height="1" fill="#a0a0a0"/><rect x="1065" y="0" width="1" height="22" fill="#a0a0a0"/>
<rect x="1089" y="1" width="1" height="21" fill="#ffffff"/><rect x="1066" y="21" width="24" height="1" fill="#ffffff"/>
<rect x="259" y="7" width="1" height="13" fill="#505050"/><rect x="257" y="17" width="14" height="1" fill="#505050"/>
<rect x="258" y="8" width="3" height="1" fill="#505050"/><rect x="259" y="6" width="1" height="1" fill="#505050"/>
<rect x="269" y="16" width="1" height="3" fill="#505050"/><rect x="268" y="15" width="1" height="5" fill="#707070" opacity="0"/>
<rect x="287" y="7" width="1" height="13" fill="#505050"/><rect x="285" y="17" width="14" height="1" fill="#505050"/>
<rect x="286" y="8" width="3" height="1" fill="#505050"/><rect x="287" y="6" width="1" height="1" fill="#505050"/>
<rect x="297" y="16" width="1" height="3" fill="#505050"/><rect x="296" y="15" width="1" height="5" fill="#707070" opacity="0"/>
<rect x="315" y="7" width="1" height="13" fill="#505050"/><rect x="313" y="17" width="14" height="1" fill="#505050"/>
<rect x="314" y="8" width="3" height="1" fill="#505050"/><rect x="315" y="6" width="1" height="1" fill="#505050"/>
<rect x="325" y="16" width="1" height="3" fill="#505050"/><rect x="324" y="15" width="1" height="5" fill="#707070" opacity="0"/>
<rect x="439" y="7" width="1" height="13" fill="#505050"/><rect x="437" y="17" width="14" height="1" fill="#505050"/>
<rect x="438" y="8" width="3" height="1" fill="#505050"/><rect x="439" y="6" width="1" height="1" fill="#505050"/>
<rect x="449" y="16" width="1" height="3" fill="#505050"/><rect x="448" y="15" width="1" height="5" fill="#707070" opacity="0"/>
<rect x="467" y="7" width="1" height="13" fill="#505050"/><rect x="465" y="17" width="14" height="1" fill="#505050"/>
<rect x="466" y="8" width="3" height="1" fill="#505050"/><rect x="467" y="6" width="1" height="1" fill="#505050"/>
<rect x="477" y="16" width="1" height="3" fill="#505050"/><rect x="476" y="15" width="1" height="5" fill="#707070" opacity="0"/>
<rect x="265" y="7" width="1" height="9" fill="#109020"/><rect x="266" y="8" width="2" height="1" fill="#109020"/><rect x="263" y="14" width="2" height="1" fill="#109020"/>
<rect x="293" y="4" width="1" height="12" fill="#108020"/><rect x="291" y="6" width="5" height="8" fill="#108020"/><rect x="292" y="7" width="3" height="6" fill="url(#gCan)"/>
</g>
<path d="M444.4 8.3L448 11.5L444.4 14.7Z" fill="#70e080" stroke="#109020" stroke-width="0.9"/>
<path d="M314.2 14.7C317 13 318.5 9.3 320.3 9.3C322 9.3 323.5 12.5 325.8 13.2" fill="none" stroke="#30a040" stroke-width="1.2"/>
<g shape-rendering="crispEdges"><rect x="473" y="6" width="1" height="10" fill="#1070a0"/><rect x="475" y="11" width="4" height="1" fill="#d04000"/></g>
<path d="M474.4 11.5L477 9.3L477 13.7Z" fill="#d04000"/>
<path d="M15.5 4.5h7.5l3.5 3.5v9.5h-11z" fill="#fdfdfd" stroke="#8a8a8a" stroke-width="1"/>
<path d="M23 4.5v3.5h3.5" fill="#e8e8e8" stroke="#8a8a8a" stroke-width="0.8"/>
<g shape-rendering="crispEdges"><rect x="17" y="6" width="3" height="2" fill="#909090"/><rect x="17" y="10" width="6" height="1" fill="#a0a0a0"/><rect x="17" y="12" width="5" height="1" fill="#a0a0a0"/></g>
<path d="M23.3 10.3h3.4v3.9h4v3.4h-4v3.9h-3.4v-3.9h-4v-3.4h4z" fill="url(#gPlus)" stroke="#0c8c0c" stroke-width="1" stroke-linejoin="round"/>
<text x="33.3" y="15.5" font-family="'Liberation Sans', 'Noto Sans CJK SC', sans-serif" font-size="12.2" fill="#000" stroke="#000" stroke-width="0.12" textLength="37.4" lengthAdjust="spacingAndGlyphs">新订单</text>
<path d="M82 12.6L90 18.4L97.8 11.6L97.7 13.6L90 20L82 14.2Z" fill="#a87010" stroke="#8a5a08" stroke-width="0.6" stroke-linejoin="round"/>
<path d="M82.4 13.5L90 19.1L97.4 12.7" fill="none" stroke="#f0d070" stroke-width="0.6"/>
<path d="M87.6 5.2L97.8 11.6L90 18.4L82 12.6Z" fill="url(#gGold)" stroke="#a06c0c" stroke-width="0.7" stroke-linejoin="round"/>
<path d="M87.6 6.2L83.4 12.4" fill="none" stroke="#fff4c0" stroke-width="0.9" opacity="0.8"/>
<path d="M112.3 4.2L119.5 4.1L123.1 6.3V12.8H112.3Z" fill="#189cf2"/>
<path d="M112.3 4.2L115.6 7L115.4 12.8H112.3Z" fill="#22acff"/>
<path d="M112.3 4.2L119.5 4.1L123.1 6.3L115.6 7Z" fill="#0c8ce6"/>
<path d="M112.8 4.7L115.6 7L115.4 12.6" fill="none" stroke="#e8f6ff" stroke-width="0.7"/>
<rect x="117.1" y="8.6" width="4.6" height="1.1" fill="#e4f4ff"/>
<path d="M113.2 19.5a2.9 2.9 0 0 1 -0.6 -5.6a2.4 2.4 0 0 1 2.6 -1.3a3.4 3.4 0 0 1 5.6 -0.3a2.7 2.7 0 0 1 3.6 1.6a2.9 2.9 0 0 1 -1 5.6z" fill="url(#gCloud)" stroke="#4c6496" stroke-width="0.9" stroke-linejoin="round"/>
<defs><linearGradient id="gSig" x1="0.3" y1="0" x2="0.7" y2="1"><stop offset="0" stop-color="#d8ecd0" stop-opacity="0.5"/><stop offset="1" stop-color="#2c9c30"/></linearGradient></defs>
<circle cx="146" cy="12" r="7.6" fill="#eef1f4"/>
<path d="M146 12L150.2 5.4A7.8 7.8 0 0 1 146 19.8Z" fill="url(#gSig)"/>
<circle cx="146" cy="12" r="7.3" fill="none" stroke="#7090dc" stroke-width="0.9" stroke-dasharray="16 30" stroke-dashoffset="-16" opacity="0.9"/>
<circle cx="146" cy="12" r="7.3" fill="none" stroke="#a8bce8" stroke-width="0.8" opacity="0.6"/>
<circle cx="146" cy="12" r="4.6" fill="none" stroke="#8ca4e0" stroke-width="0.9" opacity="0.8"/>
<circle cx="146" cy="11.8" r="2.1" fill="#2050c8"/><rect x="145.9" y="12" width="1.2" height="7.7" fill="#24a42c"/>
<path d="M165.3 11L172.5 19.8L181 10.2Z" fill="#f6d644" stroke="#d4a41c" stroke-width="0.7" stroke-linejoin="round"/>
<ellipse cx="173" cy="9" rx="8" ry="2.7" fill="#54acdc" stroke="#2c88b4" stroke-width="0.7" transform="rotate(-4 173 9)"/><ellipse cx="172.6" cy="7" rx="3.6" ry="2.6" fill="#6cbce4" stroke="#2c88b4" stroke-width="0.6"/>
<circle cx="177.5" cy="15.8" r="4.2" fill="#de2a04" stroke="#b82000" stroke-width="0.5"/><rect x="175.9" y="14.2" width="3.2" height="2.9" fill="#fff"/>
<text x="185.4" y="15.5" font-family="'Liberation Sans', 'Noto Sans CJK SC', sans-serif" font-size="12.2" fill="#000" stroke="#000" stroke-width="0.12" textLength="48.3" lengthAdjust="spacingAndGlyphs">自动交易</text>
<path d="M355.4 14.2L359.7 18.4" stroke="#a87808" stroke-width="3.4" stroke-linecap="round"/><path d="M355.4 14.2L359.7 18.4" stroke="#f0d040" stroke-width="1.6" stroke-linecap="round"/>
<circle cx="351" cy="10" r="5.6" fill="url(#gLens)" stroke="#2c70c4" stroke-width="1.3"/>
<rect x="348" y="9.2" width="6" height="1.8" fill="#3c88c0"/>
<rect x="350.1" y="7" width="1.8" height="6" fill="#3c88c0"/>
<path d="M383.4 14.2L387.7 18.4" stroke="#a87808" stroke-width="3.4" stroke-linecap="round"/><path d="M383.4 14.2L387.7 18.4" stroke="#f0d040" stroke-width="1.6" stroke-linecap="round"/>
<circle cx="379" cy="10" r="5.6" fill="url(#gLens)" stroke="#2c70c4" stroke-width="1.3"/>
<rect x="376" y="9.2" width="6" height="1.8" fill="#3c88c0"/>
<g shape-rendering="crispEdges">
<rect x="401" y="4" width="8" height="8" fill="#3ca01c"/><rect x="402" y="7" width="6" height="4" fill="#fff"/><rect x="403" y="8" width="4" height="1" fill="#a8dc90"/><rect x="402" y="5" width="1" height="1" fill="#fff"/>
<rect x="409" y="4" width="8" height="8" fill="#2050c4"/><rect x="410" y="7" width="6" height="4" fill="#fff"/><rect x="411" y="8" width="4" height="1" fill="#a0b8f0"/><rect x="410" y="5" width="1" height="1" fill="#fff"/>
<rect x="401" y="12" width="8" height="8" fill="#2050c4"/><rect x="402" y="15" width="6" height="4" fill="#fff"/><rect x="403" y="16" width="4" height="1" fill="#a0b8f0"/><rect x="402" y="13" width="1" height="1" fill="#fff"/>
<rect x="409" y="12" width="8" height="8" fill="#3ca01c"/><rect x="410" y="15" width="6" height="4" fill="#fff"/><rect x="411" y="16" width="4" height="1" fill="#a8dc90"/><rect x="410" y="13" width="1" height="1" fill="#fff"/>
</g>
<path d="M499.5 4.5h7.5l3.5 3.5v9.5h-11z" fill="#fdfdfd" stroke="#8a8a8a" stroke-width="1"/>
<path d="M507 4.5v3.5h3.5" fill="#e8e8e8" stroke="#8a8a8a" stroke-width="0.8"/>
<text x="500.5" y="14.5" font-size="9" font-style="italic" font-family="'Liberation Serif',serif" fill="#504020">f</text>
<path d="M506.3 10.3h3.4v3.9h4v3.4h-4v3.9h-3.4v-3.9h-4v-3.4h4z" fill="url(#gPlus)" stroke="#0c8c0c" stroke-width="1" stroke-linejoin="round"/>
<path d="M520 11h6l-3 3z" fill="#000"/>
<path d="M559 11h6l-3 3z" fill="#000"/>
<path d="M598 11h6l-3 3z" fill="#000"/>
<path d="M904 11h6l-3 3z" fill="#000"/>
<circle cx="544" cy="12" r="6.7" fill="#fcfcfc" stroke="url(#gClock)" stroke-width="2.4"/>
<path d="M544 7.5V12.2L547 13.2" fill="none" stroke="#303030" stroke-width="1.1"/><circle cx="544" cy="12" r="4.8" fill="none" stroke="#b0b0b0" stroke-width="0.6" stroke-dasharray="0.6 1.9"/>
<rect x="575.5" y="5.5" width="15" height="13" fill="#fff" stroke="#2c6cc0" stroke-width="1"/><rect x="576" y="6" width="14" height="2" fill="#5c9ce0"/><rect x="576" y="12.5" width="14" height="1" fill="#2c6cc0"/>
<path d="M577.5 11.3h1.6l1.8-1.3h1.6l1.2 0.8h1.8l1.8-1.2h1.4" fill="none" stroke="#a02010" stroke-width="1.2"/>
<path d="M578.2 16.8h1.4l1.6-0.9l1.6 0.9l2.6-2.4h1l1.8 2.2" fill="none" stroke="#108c28" stroke-width="1.2"/>
<path d="M627 5.3V16.6L629.8 14L632.2 19L634.2 18L631.9 13.2L635.4 12.9Z" fill="#505050"/>
<g shape-rendering="crispEdges" fill="#505050"><rect x="659" y="5" width="1" height="7"/><rect x="659" y="13" width="1" height="7"/><rect x="652" y="12" width="7" height="1"/><rect x="660" y="12" width="7" height="1"/>
<rect x="693" y="6" width="1" height="13"/><rect x="716" y="12" width="12" height="1"/></g>
<path d="M744 18.8L756.2 6.8" stroke="#505050" stroke-width="1.1"/>
<g stroke="#505050" stroke-width="0.9" fill="none"><path d="M770 13.5L778 6"/><path d="M771 18L784 6.5"/><path d="M775.5 18.5L784.5 10.5"/><path d="M773.5 9.5L772.5 18"/><path d="M777 8.5L776 15.5"/><path d="M780.5 5.5L779.5 13"/><path d="M782.5 4.5L782 11"/></g>
<text x="780.8" y="20.6" font-size="6.6" font-weight="bold" fill="#404040">E</text>
<path d="M799 5.5h14" stroke="#505050" stroke-width="1" stroke-dasharray="1 1" shape-rendering="crispEdges"/>
<path d="M799 8.5h14" stroke="#505050" stroke-width="1" stroke-dasharray="1 1" shape-rendering="crispEdges"/>
<path d="M799 12.5h14" stroke="#505050" stroke-width="1" stroke-dasharray="1 1" shape-rendering="crispEdges"/>
<path d="M799 16.5h10" stroke="#505050" stroke-width="1" stroke-dasharray="1 1" shape-rendering="crispEdges"/>
<text x="808.8" y="20.6" font-size="6.6" font-weight="bold" fill="#404040">F</text>
<text x="829.4" y="16.9" font-size="12.6" fill="#505050" stroke="#505050" stroke-width="0.3" textLength="8.6" lengthAdjust="spacingAndGlyphs">A</text>
<rect x="856.5" y="6.5" width="11" height="12" fill="none" stroke="#505050" stroke-width="1" stroke-dasharray="1 1" shape-rendering="crispEdges"/>
<text x="857.8" y="16.9" font-size="10.4" fill="#505050" stroke="#505050" stroke-width="0.3" textLength="8.2" lengthAdjust="spacingAndGlyphs">T</text>
<path d="M886.5 6L890 9.6H883Z M886.5 10.4L889 10.4L886.5 10.4Z" fill="#505050"/><path d="M883.5 10L886.5 11.6L889.5 10Z" fill="#505050"/>
<path d="M893.5 18.8L890 15.2H897Z" fill="#505050"/><path d="M890.5 14.8L893.5 13.2L896.5 14.8Z" fill="#505050"/>
<path d="M885.4 13.4L887.4 15.4L892 10" fill="none" stroke="#505050" stroke-width="1.1"/>
<text x="930.2" y="16" font-size="9" fill="#404040" stroke="#404040" stroke-width="0.15" textLength="13.3" lengthAdjust="spacingAndGlyphs">M1</text>
<text x="958.4" y="16" font-size="9" fill="#404040" stroke="#404040" stroke-width="0.15" textLength="13.0" lengthAdjust="spacingAndGlyphs">M5</text>
<text x="984.4" y="16" font-size="9" fill="#404040" stroke="#404040" stroke-width="0.15" textLength="18.0" lengthAdjust="spacingAndGlyphs">M15</text>
<text x="1012.1" y="16" font-size="9" fill="#404040" stroke="#404040" stroke-width="0.15" textLength="18.5" lengthAdjust="spacingAndGlyphs">M30</text>
<text x="1043.3" y="16" font-size="9" fill="#404040" stroke="#404040" stroke-width="0.15" textLength="12.2" lengthAdjust="spacingAndGlyphs">H1</text>
<text x="1070.2" y="16" font-size="9" fill="#404040" stroke="#404040" stroke-width="0.15" textLength="13.2" lengthAdjust="spacingAndGlyphs">H4</text>
<text x="1099.2" y="16" font-size="9" fill="#404040" stroke="#404040" stroke-width="0.15" textLength="12.3" lengthAdjust="spacingAndGlyphs">D1</text>
<text x="1126.6" y="16" font-size="9" fill="#404040" stroke="#404040" stroke-width="0.15" textLength="14.6" lengthAdjust="spacingAndGlyphs">W1</text>
<text x="1153.3" y="16" font-size="9" fill="#404040" stroke="#404040" stroke-width="0.15" textLength="15.4" lengthAdjust="spacingAndGlyphs">MN</text>
<path d="M1643.4 12.6L1639.2 16.6" stroke="#2454d0" stroke-width="2.6" stroke-linecap="round"/><circle cx="1646.6" cy="9.4" r="3.8" fill="#f4f4fc" stroke="#2454d0" stroke-width="1.3"/>
<path d="M1666.4 20.6L1667 18.4A6.4 4.8 0 1 1 1669.8 19Z" fill="#e4e4ee" stroke="#a4a4a4" stroke-width="0.8"/>
<circle cx="1677.4" cy="9.6" r="8.2" fill="url(#gBadge)"/>
<text x="1676.7" y="14" font-size="12.4" fill="#fff" text-anchor="middle" font-family="'DejaVu Sans',sans-serif">1</text>
</svg>
</body></html>
